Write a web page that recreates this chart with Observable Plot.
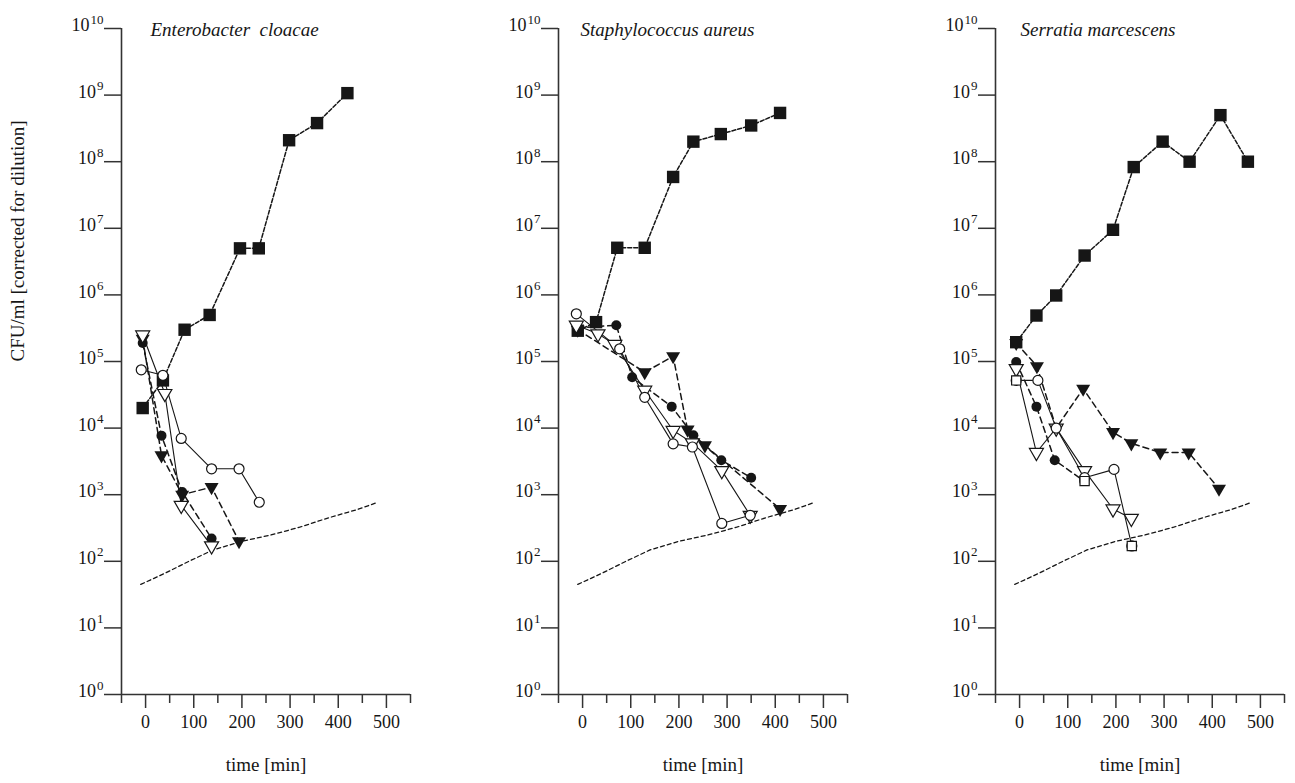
<!DOCTYPE html>
<html>
<head>
<meta charset="utf-8">
<script src="https://cdn.jsdelivr.net/npm/d3@7"></script>
<script src="https://cdn.jsdelivr.net/npm/@observablehq/plot@0.6"></script>
<style>
  html, body { margin: 0; padding: 0; background: #fff; overflow: hidden; }
  #charts { position: relative; width: 1295px; height: 783px; }
  #charts svg { position: absolute; top: 0; }
</style>
</head>
<body>
<div id="charts"></div>
<script>
// Species shown in each panel
const panelTitles = ["Enterobacter\u00a0 cloacae", "Staphylococcus aureus", "Serratia marcescens"];
const yLabel = "CFU/ml [corrected for dilution]";
const xLabel = "time [min]";

// Axis ticks
const xMajorTicks = [0, 100, 200, 300, 400, 500];
const xMinorTicks = [-50, 50, 150, 250, 350, 450, 550];
const yExponents = [0, 1, 2, 3, 4, 5, 6, 7, 8, 9, 10];

// Detection limit (corrected for dilution), same in every panel
const limitTime = [-10, 40, 90, 140, 200, 260, 320, 380, 440, 480];
const limitCfu  = [45, 66, 100, 148, 200, 248, 325, 450, 600, 760];

// [time in min, CFU/ml] per series — Enterobacter cloacae
const cloacaeControl  = [[-6, 2.0e4], [36, 5.2e4], [81, 3.0e5], [133, 5.0e5], [196, 5.0e6], [235, 5.0e6], [298, 2.1e8], [356, 3.8e8], [419, 1.07e9]];
const cloacaeFilledCircle = [[-6, 1.9e5], [33, 7.7e3], [76, 1.1e3], [137, 2.2e2]];
const cloacaeFilledTri    = [[-6, 2.2e5], [33, 3.9e3], [76, 1.0e3], [137, 1.3e3], [194, 2.0e2]];
const cloacaeOpenCircle   = [[-9, 7.5e4], [36, 6.2e4], [74, 7.0e3], [137, 2.45e3], [194, 2.45e3], [236, 7.7e2]];
const cloacaeOpenTri      = [[-6, 2.5e5], [40, 3.3e4], [74, 6.9e2], [137, 1.7e2]];
const cloacaeOpenSquare   = [];

// Staphylococcus aureus
const aureusControl  = [[-10, 2.9e5], [28, 3.9e5], [72, 5.1e6], [129, 5.1e6], [188, 5.9e7], [230, 2.0e8], [287, 2.6e8], [350, 3.5e8], [410, 5.4e8]];
const aureusFilledCircle = [[-10, 3.2e5], [70, 3.5e5], [103, 5.8e4], [185, 2.1e4], [230, 7.8e3], [288, 3.3e3], [350, 1.8e3]];
const aureusFilledTri    = [[-10, 3.0e5], [129, 6.9e4], [188, 1.2e5], [218, 9.5e3], [254, 5.5e3], [410, 6.1e2]];
const aureusOpenCircle   = [[-13, 5.2e5], [77, 1.55e5], [129, 2.9e4], [188, 5.8e3], [228, 5.2e3], [289, 3.7e2], [348, 4.9e2]];
const aureusOpenTri      = [[-13, 3.5e5], [32, 2.6e5], [67, 1.8e5], [129, 3.7e4], [188, 9.2e3], [228, 6.0e3], [289, 2.3e3], [348, 4.9e2]];
const aureusOpenSquare   = [];

// Serratia marcescens
const marcescensControl  = [[-7, 1.95e5], [35, 4.9e5], [76, 9.8e5], [135, 3.9e6], [194, 9.5e6], [237, 8.3e7], [297, 2.0e8], [353, 1.0e8], [417, 5.0e8], [474, 1.0e8]];
const marcescensFilledCircle = [[-7, 9.8e4], [35, 2.1e4], [73, 3.3e3], [134, 1.6e3]];
const marcescensFilledTri    = [[-7, 1.9e5], [36, 8.5e4], [76, 1.0e4], [132, 3.9e4], [194, 8.7e3], [232, 5.9e3], [292, 4.3e3], [351, 4.3e3], [414, 1.23e3]];
const marcescensOpenCircle   = [[-7, 5.2e4], [38, 5.2e4], [76, 1.0e4], [135, 1.8e3], [196, 2.4e3], [233, 1.7e2]];
const marcescensOpenTri      = [[-7, 7.8e4], [35, 4.3e3], [76, 1.0e4], [135, 2.3e3], [194, 6.1e2], [232, 4.4e2]];
const marcescensOpenSquare   = [[-7, 5.2e4], [135, 1.6e3], [233, 1.7e2]];

const panels = [
  {control: cloacaeControl, fc: cloacaeFilledCircle, ft: cloacaeFilledTri, oc: cloacaeOpenCircle, ot: cloacaeOpenTri, os: cloacaeOpenSquare},
  {control: aureusControl, fc: aureusFilledCircle, ft: aureusFilledTri, oc: aureusOpenCircle, ot: aureusOpenTri, os: aureusOpenSquare},
  {control: marcescensControl, fc: marcescensFilledCircle, ft: marcescensFilledTri, oc: marcescensOpenCircle, ot: marcescensOpenTri, os: marcescensOpenSquare}
];

const limit = limitTime.map((t, i) => [t, limitCfu[i]]);

const ink = "#161616";
const axisInk = "#333";
const fontFamily = "'Liberation Serif', 'Times New Roman', serif";
const X = d => d[0], Y = d => d[1];

const panelLeft = [0, 437, 874];
const panelWidth = [437, 437, 421];
const titleDx = [29, 22, 25];

// decade labels: base "10" plus a raised exponent, right-aligned as one unit
const oneDigit = yExponents.filter(k => k < 10);
const twoDigit = yExponents.filter(k => k >= 10);
const expFont = 13;
const baseLabel = (ks, expWidth) => Plot.text(ks, {
  y: k => 10 ** k, frameAnchor: "left", dx: -19 - expWidth, dy: -3, textAnchor: "end",
  text: () => "10", fill: ink, fontFamily, fontSize: 18
});
const expLabel = Plot.text(yExponents, {
  y: k => 10 ** k, frameAnchor: "left", dx: -18, dy: -9, textAnchor: "end",
  text: k => String(k), fill: ink, fontFamily, fontSize: expFont
});

const container = document.getElementById("charts");

panels.forEach((p, i) => {
  const marks = [
    // axis lines
    Plot.ruleX([-50], {y1: 1, y2: 1e10, stroke: axisInk, strokeWidth: 1.6}),
    Plot.ruleY([1], {x1: -50, x2: 550, stroke: axisInk, strokeWidth: 1.6}),
    Plot.axisY({ticks: yExponents.map(k => 10 ** k), tickSize: 17, tickFormat: () => "", stroke: axisInk, strokeWidth: 1.5, label: null}),
    baseLabel(oneDigit, 6.5),
    baseLabel(twoDigit, 13),
    expLabel,
    Plot.axisX({ticks: xMajorTicks, tickSize: 14, tickPadding: 7, tickFormat: d => String(d), stroke: axisInk, strokeWidth: 1.5, fill: ink, fontFamily, fontSize: 18, label: null}),
    Plot.axisX({ticks: xMinorTicks, tickSize: 9, tickFormat: () => "", stroke: axisInk, strokeWidth: 1.5, label: null}),
    Plot.text([xLabel], {frameAnchor: "bottom", dy: 76, text: d => d, fill: ink, fontFamily, fontSize: 19}),
    Plot.text([panelTitles[i]], {frameAnchor: "top-left", dx: titleDx[i], dy: -6, textAnchor: "start", fontStyle: "italic", text: d => d, fill: ink, fontFamily, fontSize: 19}),

    // detection limit
    Plot.line(limit, {x: X, y: Y, stroke: ink, strokeWidth: 1.3, strokeDasharray: "4,3"}),

    // series lines
    Plot.line(p.control, {x: X, y: Y, stroke: ink, strokeWidth: 1.5, strokeDasharray: "4,2"}),
    Plot.line(p.fc, {x: X, y: Y, stroke: ink, strokeWidth: 1.5, strokeDasharray: "6,4"}),
    Plot.line(p.ft, {x: X, y: Y, stroke: ink, strokeWidth: 1.5, strokeDasharray: "6,4"}),
    Plot.line(p.ot, {x: X, y: Y, stroke: ink, strokeWidth: 1.1}),
    Plot.line(p.oc, {x: X, y: Y, stroke: ink, strokeWidth: 1.1}),

    // markers
    Plot.dot(p.control, {x: X, y: Y, symbol: "square", r: 7, fill: ink, stroke: "none"}),
    Plot.dot(p.fc, {x: X, y: Y, symbol: "circle", r: 5, fill: ink, stroke: "none"}),
    Plot.dot(p.ft, {x: X, y: Y, symbol: "triangle", rotate: 180, r: 5.2, fill: ink, stroke: "none"}),
    Plot.dot(p.ot, {x: X, y: Y, symbol: "triangle", rotate: 180, r: 5.2, fill: "white", stroke: ink, strokeWidth: 1.2}),
    Plot.dot(p.oc, {x: X, y: Y, symbol: "circle", r: 5, fill: "white", stroke: ink, strokeWidth: 1.2}),
    Plot.dot(p.os, {x: X, y: Y, symbol: "square", r: 5.2, fill: "white", stroke: ink, strokeWidth: 1.2})
  ];
  if (i === 0) {
    marks.push(Plot.text([yLabel], {frameAnchor: "left", rotate: -90, dx: -104, text: d => d, fill: ink, fontFamily, fontSize: 19}));
  }
  const chart = Plot.plot({
    width: panelWidth[i],
    height: 783,
    marginLeft: 121,
    marginRight: panelWidth[i] - 410,
    marginTop: 28,
    marginBottom: 89,
    x: {domain: [-50, 550], axis: null},
    y: {type: "log", domain: [1, 1e10], axis: null},
    style: {fontFamily, fontSize: "18px", background: "transparent", overflow: "visible"},
    marks
  });
  chart.style.left = panelLeft[i] + "px";
  container.appendChild(chart);
});
</script>
</body>
</html>
